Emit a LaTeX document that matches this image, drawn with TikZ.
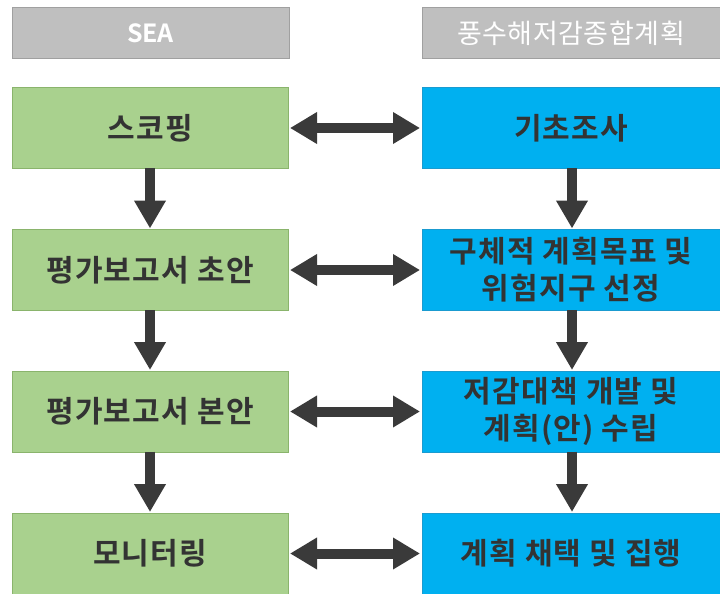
\documentclass[tikz,border=0pt]{standalone}
\usepackage{fontspec}
\newfontfamily\kr{Noto Sans CJK KR}[BoldFont={Noto Sans CJK KR Bold}]
\newfontfamily\krbox{Noto Sans CJK KR Bold}[LetterSpace=4]
\newfontfamily\krhead{Noto Sans CJK KR}[LetterSpace=2]
\usetikzlibrary{arrows.meta}
\definecolor{hdrfill}{HTML}{BFBFBF}
\definecolor{hdrline}{HTML}{A0A0A0}
\definecolor{grnfill}{HTML}{A9D18E}
\definecolor{grnline}{HTML}{8AB46C}
\definecolor{blufill}{HTML}{00B0F0}
\definecolor{bluline}{HTML}{1A9BD0}
\definecolor{arrcol}{HTML}{3A3A3A}
\definecolor{txtcol}{HTML}{333333}
\tikzset{
  hdr/.style={draw=hdrline, line width=1pt, fill=hdrfill, minimum height=51pt, inner sep=0pt,
    text=white, font=\krhead\fontsize{27}{30}\selectfont},
  leftbox/.style={draw=grnline, line width=1pt, fill=grnfill, minimum width=276pt, minimum height=81pt,
    inner sep=0pt, text=txtcol, align=center, font=\krbox\fontsize{30}{37}\selectfont},
  rightbox/.style={draw=bluline, line width=1pt, fill=blufill, minimum width=304pt, minimum height=81pt,
    inner sep=0pt, text=txtcol, align=center, font=\krbox\fontsize{30}{37}\selectfont},
  downarr/.style={draw=arrcol, line width=10pt, -{Triangle[width=30pt,length=28pt]}, shorten <=-1pt, shorten >=0.5pt},
  bothways/.style={draw=arrcol, line width=10pt, {Triangle[width=30pt,length=27pt]}-{Triangle[width=30pt,length=27pt]}, shorten <=1.5pt, shorten >=1.5pt}
}
\begin{document}
\begin{tikzpicture}[x=1pt,y=-1pt]
\useasboundingbox (0,0) rectangle (720,594);
\begin{scope}
\clip (0,0) rectangle (720,594);
\node[hdr, minimum width=277pt, font=\kr\bfseries\fontsize{25}{30}\selectfont] (h1) at (150.5,33.5) {SEA};
\node[hdr, minimum width=304pt] (h2) at (574,33.5) {\hspace*{-6pt}풍수해저감종합계획};

\node[leftbox] (l1) at (150,128) {스코핑};
\node[leftbox] (l2) at (150,270) {평가보고서 초안};
\node[leftbox] (l3) at (150,411.5) {평가보고서 본안};
\node[leftbox] (l4) at (150,553.5) {모니터링};

\node[rightbox] (r1) at (574,128) {\hspace*{-6pt}기초조사};
\node[rightbox] (r2) at (574,270) {\hspace*{-6pt}구체적 계획목표 및\\\hspace*{-6pt}위험지구 선정};
\node[rightbox] (r3) at (574,411.5) {\hspace*{-6pt}저감대책 개발 및\\\hspace*{-6pt}계획(안) 수립};
\node[rightbox] (r4) at (574,553.5) {\hspace*{-6pt}계획 채택 및 집행};
\end{scope}

\draw[downarr] (l1.south) -- (l2.north);
\draw[downarr] (l2.south) -- (l3.north);
\draw[downarr] (l3.south) -- (l4.north);
\draw[downarr] ([xshift=-2pt]r1.south) -- ([xshift=-2pt]r2.north);
\draw[downarr] ([xshift=-2pt]r2.south) -- ([xshift=-2pt]r3.north);
\draw[downarr] ([xshift=-2pt]r3.south) -- ([xshift=-2pt]r4.north);

\draw[bothways] (l1.east) -- (r1.west);
\draw[bothways] (l2.east) -- (r2.west);
\draw[bothways] (l3.east) -- (r3.west);
\draw[bothways] (l4.east) -- (r4.west);
\end{tikzpicture}
\end{document}
